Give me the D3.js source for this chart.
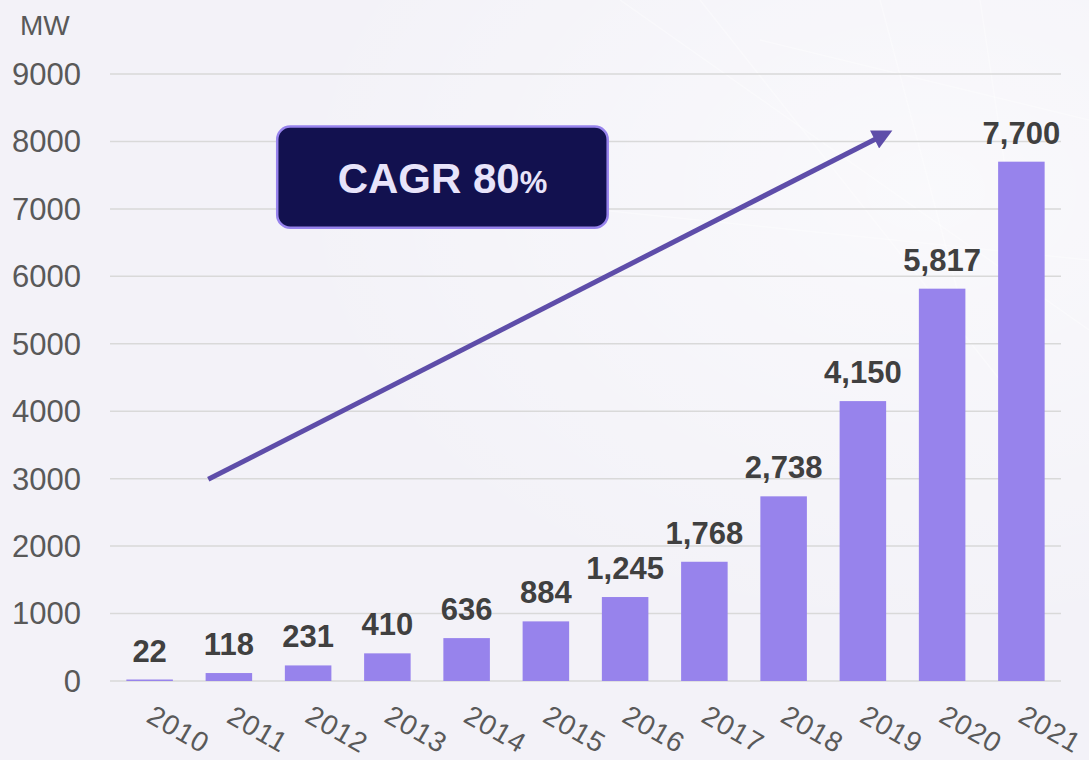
<!DOCTYPE html>
<html>
<head>
<meta charset="utf-8">
<script src="https://cdn.jsdelivr.net/npm/d3@7/dist/d3.min.js"></script>
<style>
html,body{margin:0;padding:0;background:#F3F2F8;}
svg{display:block;}
</style>
</head>
<body>
<svg id="chart" width="1089" height="760"></svg>
<script>
const years = ["2010","2011","2012","2013","2014","2015","2016","2017","2018","2019","2020","2021"];
const capacityMW = [22,118,231,410,636,884,1245,1768,2738,4150,5817,7700];
const yTicks = [0,1000,2000,3000,4000,5000,6000,7000,8000,9000];
const unitLabel = "MW";
const cagrLabel = "CAGR 80";
const cagrSuffix = "%";
// arrow annotation in data coordinates: [category index, value]
const arrowStart = [0.74, 2990];
const arrowEnd = [9.35, 8150];
// box annotation in data coordinates
const boxX = [1.61, 5.78];
const boxY = [8220, 6720];

const W = 1089, H = 760;
const m = {left:110, right:28, top:74, bottom:79};
const svg = d3.select("#chart");
const font = "'Liberation Sans', Arial, Helvetica, sans-serif";

// background
const defs = svg.append("defs");
const rg = defs.append("radialGradient").attr("id","glow").attr("cx","0.85").attr("cy","0.25").attr("r","0.6");
rg.append("stop").attr("offset","0").attr("stop-color","#ffffff").attr("stop-opacity",0.55);
rg.append("stop").attr("offset","1").attr("stop-color","#ffffff").attr("stop-opacity",0);
svg.append("rect").attr("width",W).attr("height",H).attr("fill","#F3F2F8");
svg.append("rect").attr("width",W).attr("height",H).attr("fill","url(#glow)");
const streaks = [[620,0,1089,330],[700,0,1000,380],[760,40,1089,120],[880,0,960,300],[600,210,1089,260],[980,0,1040,400]];
svg.append("g").selectAll("line").data(streaks).join("line")
  .attr("x1",d=>d[0]).attr("y1",d=>d[1]).attr("x2",d=>d[2]).attr("y2",d=>d[3])
  .attr("stroke","#ffffff").attr("stroke-opacity",0.35).attr("stroke-width",1.5);

const x = d3.scaleBand().domain(years).range([m.left, W - m.right]).paddingInner(0.413).paddingOuter(0.2065);
const y = d3.scaleLinear().domain([0,9000]).range([H - m.bottom, m.top]);
const xi = d3.scaleLinear().domain([0, years.length-1])
  .range([x(years[0]) + x.bandwidth()/2, x(years[years.length-1]) + x.bandwidth()/2]);

// grid
svg.append("g").selectAll("line").data(yTicks).join("line")
  .attr("x1", m.left).attr("x2", W - m.right)
  .attr("y1", d=>y(d)).attr("y2", d=>y(d))
  .attr("stroke","#D9D9D9").attr("stroke-width",1.5);

// y labels
svg.append("g").selectAll("text").data(yTicks).join("text")
  .attr("x", 81).attr("y", d=>y(d)).attr("dy","0.35em")
  .attr("text-anchor","end").attr("font-family",font).attr("font-size",31)
  .attr("fill","#595959").text(d=>d);
svg.append("text").attr("x",20).attr("y",35).attr("font-family",font).attr("font-size",28)
  .attr("fill","#595959").text(unitLabel);

// bars
const data = years.map((yr,i)=>({year:yr, v:capacityMW[i]}));
svg.append("g").selectAll("rect").data(data).join("rect")
  .attr("x", d=>x(d.year)).attr("width", x.bandwidth())
  .attr("y", d=>y(d.v)).attr("height", d=>y(0)-y(d.v))
  .attr("fill","#9783EC");

// value labels
svg.append("g").selectAll("text").data(data).join("text")
  .attr("x", d=>x(d.year)+x.bandwidth()/2).attr("y", d=>y(d.v)-18)
  .attr("text-anchor","middle").attr("font-family",font).attr("font-size",31)
  .attr("font-weight","bold").attr("fill","#404040").text(d=>d3.format(",")(d.v));

// x labels rotated
svg.append("g").selectAll("text").data(years).join("text")
  .attr("transform", d=>`translate(${x(d)+x.bandwidth()/2+29},729) rotate(30)`)
  .attr("text-anchor","middle").attr("dy","0.35em").attr("letter-spacing",1)
  .attr("font-family",font).attr("font-size",28).attr("fill","#595959").text(d=>d);

// arrow
defs.append("marker").attr("id","ah").attr("viewBox","0 0 10 10").attr("refX",2).attr("refY",5)
  .attr("markerWidth",4.2).attr("markerHeight",4).attr("orient","auto").attr("markerUnits","strokeWidth")
  .append("path").attr("d","M0,0 L10,5 L0,10 Z").attr("fill","#5E4DA9");
const ax1 = xi(arrowStart[0]), ay1 = y(arrowStart[1]);
const ax2 = xi(arrowEnd[0]), ay2 = y(arrowEnd[1]);
const ang = Math.atan2(ay2-ay1, ax2-ax1);
const back = 14;
svg.append("line").attr("x1",ax1).attr("y1",ay1)
  .attr("x2",ax2 - back*Math.cos(ang)).attr("y2",ay2 - back*Math.sin(ang))
  .attr("stroke","#5E4DA9").attr("stroke-width",5).attr("marker-end","url(#ah)");

// CAGR box
const bx1 = xi(boxX[0]), bx2 = xi(boxX[1]), by1 = y(boxY[0]), by2 = y(boxY[1]);
svg.append("rect").attr("x",bx1).attr("y",by1).attr("width",bx2-bx1).attr("height",by2-by1)
  .attr("rx",13).attr("fill","#12114F").attr("stroke","#9783EC").attr("stroke-width",2.5);
const t = svg.append("text").attr("x",(bx1+bx2)/2).attr("y",(by1+by2)/2+16)
  .attr("text-anchor","middle").attr("font-family",font).attr("font-weight","bold")
  .attr("fill","#E8E4FA");
t.append("tspan").attr("font-size",42).text(cagrLabel);
t.append("tspan").attr("font-size",31).text(cagrSuffix);
</script>
</body>
</html>
